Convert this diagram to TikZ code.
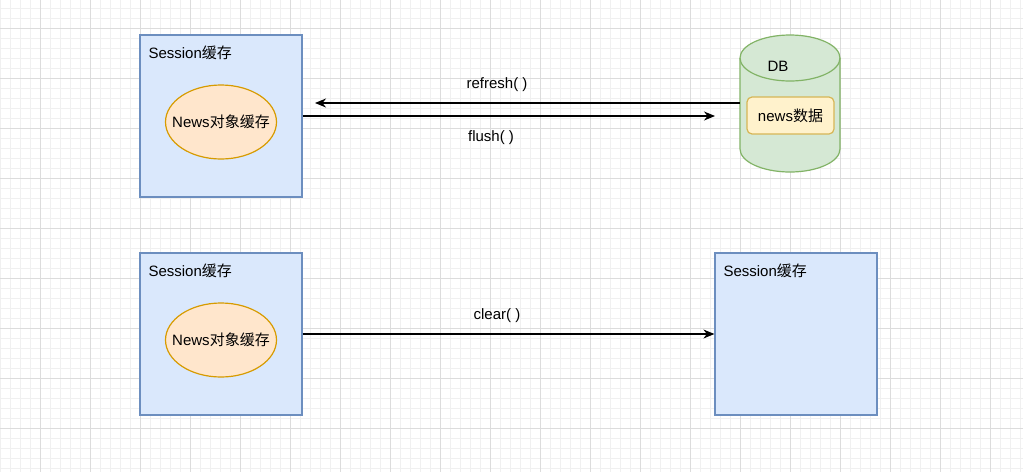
\documentclass[tikz,border=0pt]{standalone}
\usepackage{fontspec}
\setmainfont{Liberation Sans}
\newfontfamily\cjk{Noto Sans CJK SC}
\usetikzlibrary{arrows.meta,shapes.geometric}

\definecolor{gridminor}{HTML}{F0F0F0}
\definecolor{gridmajor}{HTML}{DCDCDC}
\definecolor{blueFill}{HTML}{DAE8FC}
\definecolor{blueLine}{HTML}{6C8EBF}
\definecolor{orangeFill}{HTML}{FFE6CC}
\definecolor{orangeLine}{HTML}{D79B00}
\definecolor{greenFill}{HTML}{D5E8D4}
\definecolor{greenLine}{HTML}{82B366}
\definecolor{yellowFill}{HTML}{FFF2CC}
\definecolor{yellowLine}{HTML}{D6B656}

\tikzset{
  every node/.style={font=\fontsize{15}{18}\selectfont, text=black},
  sessionbox/.style={draw=blueLine, fill=blueFill, line width=1.2pt,
    minimum width=162pt, minimum height=162pt, inner sep=0pt},
  cachebubble/.style={ellipse, draw=orangeLine, fill=orangeFill, line width=1.2pt,
    minimum width=111pt, minimum height=74pt, inner sep=0pt},
  databox/.style={draw=yellowLine, fill=yellowFill, line width=1.2pt,
    rounded corners=5pt, minimum width=87pt, minimum height=37pt, inner sep=0pt},
  conn/.style={line width=1.2pt, -{Stealth[length=11pt,width=9pt,inset=3.5pt]}},
}

\begin{document}
\begin{tikzpicture}[x=1pt,y=-1pt]
  % canvas and grid
  \fill[white] (0,0) rectangle (1023,472);
  \useasboundingbox (0,0) rectangle (1023,472);
  \foreach \x in {0,10,...,1020} \draw[gridminor, line width=0.8pt] (\x,0) -- (\x,472);
  \foreach \y in {8,18,...,468} \draw[gridminor, line width=0.8pt] (0,\y) -- (1023,\y);
  \foreach \x in {40,90,...,990} \draw[gridmajor, line width=0.8pt] (\x,0) -- (\x,472);
  \foreach \y in {28,78,...,428} \draw[gridmajor, line width=0.8pt] (0,\y) -- (1023,\y);

  % upper session cache
  \node[sessionbox] (s1) at (221,116) {};
  \node[anchor=west] (s1t) at (145,53) {Session{\cjk 缓存}};
  \node[cachebubble] (e1) at (221,122) {};
  \node (e1t) at (e1.center) {News{\cjk 对象缓存}};

  % database cylinder
  \filldraw[draw=greenLine, fill=greenFill, line width=1.2pt]
    (740,58) -- (740,149)
    arc[start angle=180, end angle=360, x radius=50pt, y radius=23pt]
    -- (840,58)
    arc[start angle=0, end angle=180, x radius=50pt, y radius=23pt] -- cycle;
  \draw[greenLine, line width=1.2pt]
    (740,58) arc[start angle=180, end angle=360, x radius=50pt, y radius=23pt];
  \node[minimum width=100pt, minimum height=137pt, inner sep=0pt] (db) at (790,103) {};
  \node (dbt) at (778,66) {DB};
  \node[databox] (news) at (790.5,115.5) {news{\cjk 数据}};

  % refresh / flush
  \coordinate (rf) at (315,103);
  \coordinate (fl) at (715,116);
  \draw[conn] (db.west) -- (rf);
  \draw[conn] (s1.east) -- (fl);
  \node (lrf) at (497,85) {refresh( )};
  \node (lfl) at (491,138) {flush( )};

  % lower session caches
  \node[sessionbox] (s2) at (221,334) {};
  \node[anchor=west] (s2t) at (145,271) {Session{\cjk 缓存}};
  \node[cachebubble] (e2) at (221,340) {};
  \node (e2t) at (e2.center) {News{\cjk 对象缓存}};

  \node[sessionbox] (s3) at (796,334) {};
  \node[anchor=west] (s3t) at (720,271) {Session{\cjk 缓存}};

  \draw[conn] (s2.east) -- (s3.west);
  \node (lcl) at (497,316) {clear( )};
\end{tikzpicture}
\end{document}
